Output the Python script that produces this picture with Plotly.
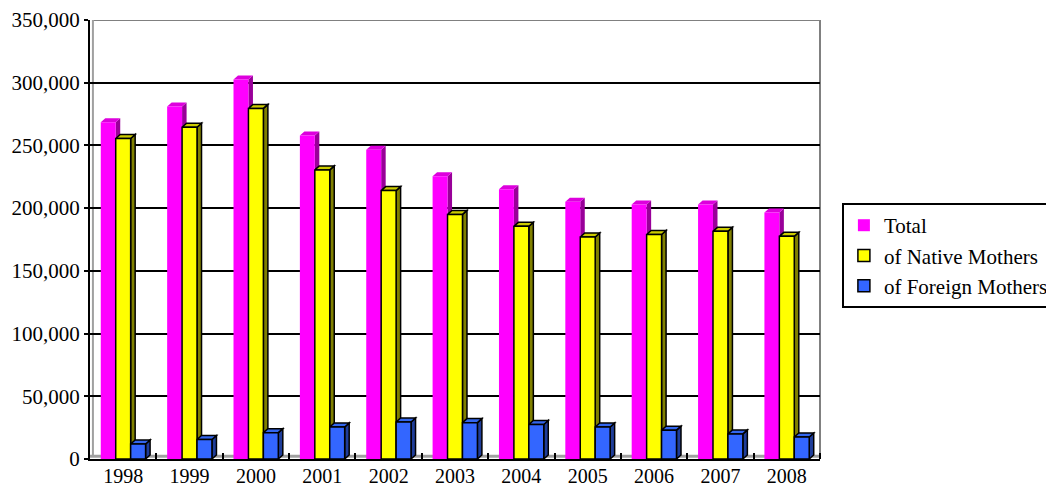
import numpy as np
import plotly.graph_objects as go

years = ["1998", "1999", "2000", "2001", "2002", "2003", "2004", "2005", "2006", "2007", "2008"]
total = [268500, 281000, 302500, 258000, 246500, 225500, 215000, 205000, 203000, 203000, 196500]
native = [255500, 264500, 279500, 230500, 214000, 195000, 185500, 177000, 179000, 181500, 177500]
foreign = [12000, 15500, 21000, 25500, 29500, 29000, 27500, 25500, 23000, 20000, 17500]
y_ticks = [0, 50000, 100000, 150000, 200000, 250000, 300000, 350000]

series = [
    dict(name="Total", vals=total, front="#FF00FF", side="#990099", top="#DD00DD", line=0),
    dict(name="of Native Mothers", vals=native, front="#FFFF00", side="#808000", top="#CCCC00", line=1.5),
    dict(name="of Foreign Mothers", vals=foreign, front="#3366FF", side="#1F3D99", top="#3366EE", line=1.5),
]

x = np.arange(len(years))
bargap = 0.325
w = (1 - bargap) / 3
dx = 0.068            # depth in category units
dy = 3190             # depth in value units

fig = go.Figure()
shapes = []
for k, s in enumerate(series):
    fig.add_trace(go.Bar(
        x=x, y=s["vals"], name=s["name"], legendgroup=s["name"],
        marker=dict(color=s["front"], line=dict(color="black", width=s["line"])),
    ))
    for i, v in enumerate(s["vals"]):
        c = i + (k - 1) * w
        x0, x1 = c - w / 2, c + w / 2
        lc = "black" if s["line"] else s["side"]
        lw = s["line"] if s["line"] else 0
        shapes.append(dict(type="path", xref="x", yref="y", layer="between",
                           path=f"M {x1},0 L {x1+dx},{dy} L {x1+dx},{v+dy} L {x1},{v} Z",
                           fillcolor=s["side"], line=dict(color=lc, width=lw)))
        lc2 = "black" if s["line"] else s["top"]
        shapes.append(dict(type="path", xref="x", yref="y", layer="between",
                           path=f"M {x0},{v} L {x0+dx},{v+dy} L {x1+dx},{v+dy} L {x1},{v} Z",
                           fillcolor=s["top"], line=dict(color=lc2, width=lw)))

# wall borders
shapes.append(dict(type="line", xref="paper", yref="y", x0=0.004, x1=1, y0=350000, y1=350000,
                   line=dict(color="#808080", width=2), layer="between"))
shapes.append(dict(type="line", xref="paper", yref="y", x0=1, x1=1, y0=0, y1=350000,
                   line=dict(color="#808080", width=2), layer="between"))
shapes.append(dict(type="line", xref="paper", yref="y", x0=0.004, x1=0.004, y0=2000, y1=350000,
                   line=dict(color="#A0A0A0", width=2), layer="below"))
shapes.append(dict(type="line", xref="paper", yref="y", x0=0, x1=1, y0=2200, y1=2200,
                   line=dict(color="#A0A0A0", width=3), layer="below"))

font = dict(family="Liberation Serif", size=21, color="black")
xfont = dict(family="Liberation Serif", size=20, color="black")

fig.update_layout(
    width=1046, height=487,
    margin=dict(l=90, r=226, t=20, b=28, autoexpand=False),
    paper_bgcolor="white", plot_bgcolor="white",
    barmode="group", bargap=bargap, bargroupgap=0,
    font=font,
    shapes=shapes,
    showlegend=True,
    legend=dict(x=1.03, y=0.583, xanchor="left", yanchor="top",
                bordercolor="black", borderwidth=2, bgcolor="white",
                font=font, itemwidth=30, tracegroupgap=6, traceorder="normal"),
    xaxis=dict(range=[-0.5, 10.5], tickmode="array", tickvals=list(x), ticktext=years,
               showline=True, linecolor="black", linewidth=2, ticks="", showgrid=False,
               zeroline=False, tickfont=xfont, ticklabelstandoff=-2,
               minor=dict(tickmode="array", tickvals=list(x[:-1] + 0.5) + [10.5], ticks="inside",
                          ticklen=6, tickcolor="black", tickwidth=1.5, showgrid=False)),
    yaxis=dict(range=[0, 350000], tickmode="array", tickvals=y_ticks,
               ticktext=[f"{v:,}" for v in y_ticks],
               showline=True, linecolor="black", linewidth=2, ticks="outside", ticklen=4,
               tickcolor="black", tickwidth=1.5, showgrid=True, gridcolor="black", gridwidth=1.5,
               zeroline=False, tickfont=font),
)

fig.write_html("out.html")
